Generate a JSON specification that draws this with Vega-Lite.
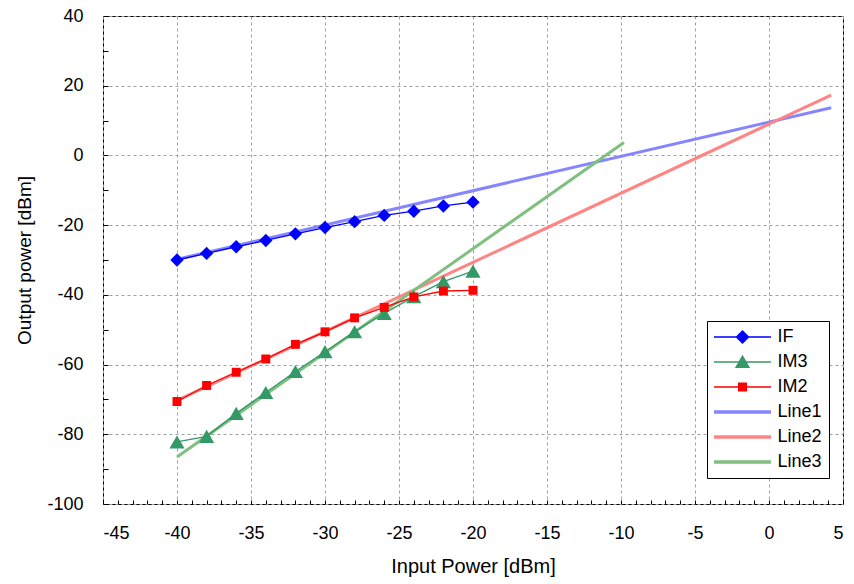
{
  "$schema": "https://vega.github.io/schema/vega-lite/v6.json",
  "width": 740,
  "height": 488,
  "autosize": {"type": "none"},
  "padding": {"left": 103, "top": 16, "right": 11, "bottom": 80},
  "background": "white",
  "config": {
    "font": "Liberation Sans",
    "view": {"stroke": "#000000", "strokeWidth": 1},
    "axis": {"labelColor": "#000000", "titleColor": "#000000", "titleFontWeight": "normal"}
  },
  "data": {
    "values": [
      {"series": "IF", "kind": "data", "x": -40, "y": -30.0},
      {"series": "IF", "kind": "data", "x": -38, "y": -28.1},
      {"series": "IF", "kind": "data", "x": -36, "y": -26.2},
      {"series": "IF", "kind": "data", "x": -34, "y": -24.4},
      {"series": "IF", "kind": "data", "x": -32, "y": -22.5},
      {"series": "IF", "kind": "data", "x": -30, "y": -20.7},
      {"series": "IF", "kind": "data", "x": -28, "y": -19.0},
      {"series": "IF", "kind": "data", "x": -26, "y": -17.2},
      {"series": "IF", "kind": "data", "x": -24, "y": -16.0},
      {"series": "IF", "kind": "data", "x": -22, "y": -14.5},
      {"series": "IF", "kind": "data", "x": -20, "y": -13.4},
      {"series": "IM3", "kind": "data", "x": -40, "y": -82.2},
      {"series": "IM3", "kind": "data", "x": -38, "y": -80.6},
      {"series": "IM3", "kind": "data", "x": -36, "y": -74.0},
      {"series": "IM3", "kind": "data", "x": -34, "y": -68.0},
      {"series": "IM3", "kind": "data", "x": -32, "y": -62.0},
      {"series": "IM3", "kind": "data", "x": -30, "y": -56.3},
      {"series": "IM3", "kind": "data", "x": -28, "y": -50.6},
      {"series": "IM3", "kind": "data", "x": -26, "y": -45.3},
      {"series": "IM3", "kind": "data", "x": -24, "y": -40.5},
      {"series": "IM3", "kind": "data", "x": -22, "y": -36.2},
      {"series": "IM3", "kind": "data", "x": -20, "y": -33.2},
      {"series": "IM2", "kind": "data", "x": -40, "y": -70.6},
      {"series": "IM2", "kind": "data", "x": -38, "y": -66.0},
      {"series": "IM2", "kind": "data", "x": -36, "y": -62.2},
      {"series": "IM2", "kind": "data", "x": -34, "y": -58.4},
      {"series": "IM2", "kind": "data", "x": -32, "y": -54.2},
      {"series": "IM2", "kind": "data", "x": -30, "y": -50.6},
      {"series": "IM2", "kind": "data", "x": -28, "y": -46.6},
      {"series": "IM2", "kind": "data", "x": -26, "y": -43.6},
      {"series": "IM2", "kind": "data", "x": -24, "y": -40.6},
      {"series": "IM2", "kind": "data", "x": -22, "y": -38.9},
      {"series": "IM2", "kind": "data", "x": -20, "y": -38.7},
      {"series": "Line1", "kind": "trend", "x": -40, "y": -29.8},
      {"series": "Line1", "kind": "trend", "x": 4.2, "y": 13.7},
      {"series": "Line2", "kind": "trend", "x": -40, "y": -70.3},
      {"series": "Line2", "kind": "trend", "x": 4.2, "y": 17.3},
      {"series": "Line3", "kind": "trend", "x": -40, "y": -86.5},
      {"series": "Line3", "kind": "trend", "x": -9.8, "y": 3.7}
    ]
  },
  "resolve": {"axis": {"x": "independent", "y": "independent"}},
  "layer": [
    {
      "transform": [{"filter": "datum.kind === 'legendonly'"}],
      "mark": {"type": "point", "filled": true, "opacity": 1},
      "encoding": {
        "x": {"field": "x", "type": "quantitative", "axis": null, "scale": {"domain": [-45, 5], "nice": false, "zero": false}},
        "y": {"field": "y", "type": "quantitative", "axis": null, "scale": {"domain": [-100, 40], "nice": false, "zero": false}},
        "color": {
          "field": "series", "type": "nominal",
          "scale": {
            "domain": ["IF", "IM3", "IM2", "Line1", "Line2", "Line3"],
            "range": ["#0000ff", "#339966", "#ff0000", "#8585ff", "#ff8585", "#7fbf7f"]
          },
          "legend": {
            "title": null,
            "orient": "none",
            "legendX": 604,
            "legendY": 305,
            "padding": 7,
            "strokeColor": "#000000",
            "fillColor": "#ffffff",
            "cornerRadius": 0,
            "labelFontSize": 18,
            "labelColor": "#000000",
            "symbolOffset": 19.5,
            "labelOffset": 26,
            "rowPadding": 7,
            "symbolSize": 324,
            "symbolStrokeWidth": 0,
            "symbolOpacity": 1
          }
        },
        "shape": {
          "field": "series", "type": "nominal",
          "scale": {
            "domain": ["IF", "IM3", "IM2", "Line1", "Line2", "Line3"],
            "range": [
              "M-3.17,-0.083H3.17V0.083H-3.17ZM0,-0.78L0.78,0L0,0.78L-0.78,0Z",
              "M-3.17,-0.083H3.17V0.083H-3.17ZM0,-0.8L0.85,0.68L-0.85,0.68Z",
              "M-3.17,-0.083H3.17V0.083H-3.17ZM-0.5,-0.5H0.5V0.5H-0.5Z",
              "M-3.17,-0.19H3.17V0.19H-3.17Z",
              "M-3.17,-0.19H3.17V0.19H-3.17Z",
              "M-3.17,-0.19H3.17V0.19H-3.17Z"
            ]
          }
        }
      }
    },
    {
      "transform": [{"filter": "datum.kind === 'trend'"}],
      "mark": {"type": "line", "strokeWidth": 3, "opacity": 1},
      "encoding": {
        "x": {
          "field": "x", "type": "quantitative",
          "axis": {
            "values": [-45, -40, -35, -30, -25, -20, -15, -10, -5, 0, 5],
            "labelExpr": "datum.value + ''",
            "grid": true, "gridDash": [3, 3], "gridColor": "#a0a0a0", "gridWidth": 1,
            "ticks": false, "domain": false,
            "labelFontSize": 18, "labelPadding": 20,
            "title": "Input Power [dBm]", "titleFontSize": 20, "titlePadding": 14
          }
        },
        "y": {
          "field": "y", "type": "quantitative",
          "axis": {
            "values": [-100, -80, -60, -40, -20, 0, 20, 40],
            "labelExpr": "datum.value + ''",
            "grid": true, "gridDash": [3, 3], "gridColor": "#a0a0a0", "gridWidth": 1,
            "ticks": false, "domain": false,
            "labelFontSize": 18, "labelPadding": 20,
            "title": "Output power [dBm]", "titleFontSize": 19, "titlePadding": 12
          }
        },
        "color": {"field": "series", "type": "nominal"}
      }
    },
    {
      "transform": [{"filter": "datum.kind === 'data'"}],
      "mark": {"type": "line", "strokeWidth": 1.3},
      "encoding": {
        "x": {
          "field": "x", "type": "quantitative",
          "axis": {
            "values": [-45, -44, -43, -42, -41, -40, -39, -38, -37, -36, -35, -34, -33, -32, -31, -30, -29, -28, -27, -26, -25, -24, -23, -22, -21, -20, -19, -18, -17, -16, -15, -14, -13, -12, -11, -10, -9, -8, -7, -6, -5, -4, -3, -2, -1, 0, 1, 2, 3, 4, 5],
            "labels": false, "grid": false, "domain": false, "title": null,
            "ticks": true, "tickSize": -4, "tickColor": "#000000", "orient": "bottom"
          }
        },
        "y": {
          "field": "y", "type": "quantitative",
          "axis": {
            "values": [-100, -90, -80, -70, -60, -50, -40, -30, -20, -10, 0, 10, 20, 30, 40],
            "labels": false, "grid": false, "domain": false, "title": null,
            "ticks": true, "tickSize": -5, "tickColor": "#000000", "orient": "left"
          }
        },
        "color": {"field": "series", "type": "nominal"}
      }
    },
    {
      "transform": [{"filter": "datum.series === 'IF'"}],
      "mark": {"type": "point", "filled": true, "opacity": 1, "shape": "diamond", "size": 180},
      "encoding": {
        "x": {"field": "x", "type": "quantitative", "axis": null},
        "y": {"field": "y", "type": "quantitative", "axis": null},
        "color": {"field": "series", "type": "nominal"}
      }
    },
    {
      "transform": [{"filter": "datum.series === 'IM3'"}],
      "mark": {"type": "point", "filled": true, "opacity": 1, "shape": "triangle-up", "size": 230},
      "encoding": {
        "x": {"field": "x", "type": "quantitative", "axis": null},
        "y": {"field": "y", "type": "quantitative", "axis": null},
        "color": {"field": "series", "type": "nominal"}
      }
    },
    {
      "transform": [{"filter": "datum.series === 'IM2'"}],
      "mark": {"type": "point", "filled": true, "opacity": 1, "shape": "square", "size": 80},
      "encoding": {
        "x": {"field": "x", "type": "quantitative", "axis": null},
        "y": {"field": "y", "type": "quantitative", "axis": null},
        "color": {"field": "series", "type": "nominal"}
      }
    }
  ]
}
